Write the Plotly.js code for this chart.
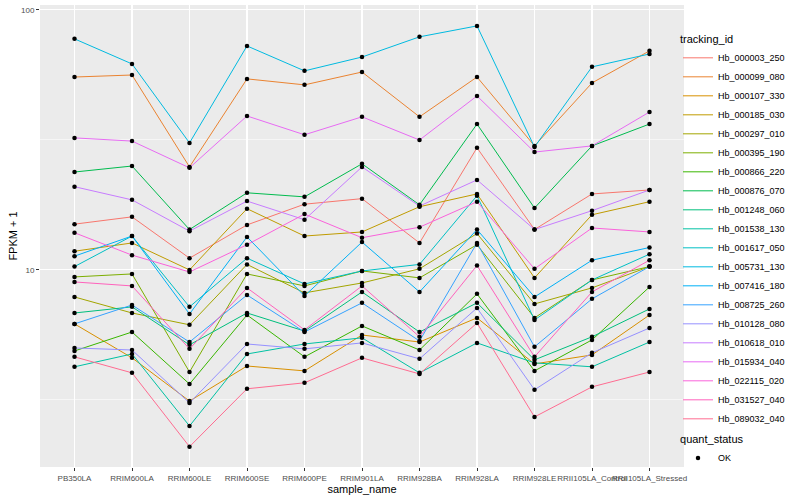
<!DOCTYPE html>
<html>
<head>
<meta charset="utf-8">
<script src="https://cdn.plot.ly/plotly-3.0.1.min.js"></script>
<style>html,body{margin:0;padding:0;background:#fff;}</style>
</head>
<body>
<div id="chart" style="width:800px;height:500px;"></div>
<script>
// ---- data (FPKM + 1) ----
const samples = ["PB350LA","RRIM600LA","RRIM600LE","RRIM600SE","RRIM600PE","RRIM901LA","RRIM928BA","RRIM928LA","RRIM928LE","RRII105LA_Control","RRII105LA_Stressed"];

const Hb_000003_250 = [15.0,16.0,11.1,14.9,17.9,18.8,12.7,29.5,14.3,19.6,20.3];
const Hb_000099_080 = [55.2,56.2,24.9,54.3,51.5,57.7,38.8,55.2,30.0,52.4,69.6];
const Hb_000107_330 = [6.20,4.59,3.13,4.27,4.09,5.62,5.28,6.54,4.35,4.71,6.71];
const Hb_000185_030 = [11.8,12.7,10.0,17.2,13.5,14.0,17.5,19.6,9.32,16.3,18.3];
const Hb_000297_010 = [7.87,6.83,6.15,10.5,8.16,8.91,10.1,13.8,7.40,8.53,10.3];
const Hb_000395_190 = [9.40,9.65,4.05,9.65,8.68,9.91,9.32,12.5,6.54,9.15,10.3];
const Hb_000866_220 = [4.88,5.77,3.64,6.71,4.63,6.09,4.92,8.09,4.09,5.38,8.60];
const Hb_000876_070 = [23.8,25.1,14.3,19.8,19.1,25.6,17.8,36.4,17.3,30.0,36.4];
const Hb_001248_060 = [6.83,7.21,5.15,6.83,5.82,8.23,5.77,7.47,4.51,5.53,7.08];
const Hb_001538_130 = [4.24,4.75,2.51,4.75,5.19,5.48,4.02,5.24,4.39,4.24,5.28];
const Hb_001617_050 = [10.3,13.5,7.21,11.1,8.83,9.91,10.5,19.3,6.42,9.15,11.5];
const Hb_005731_130 = [77.4,62.0,30.8,72.7,58.3,65.9,78.8,86.8,29.7,60.4,67.7];
const Hb_007416_180 = [11.3,13.5,6.77,13.4,7.94,12.8,8.23,14.3,7.87,10.9,12.2];
const Hb_008725_260 = [6.20,7.33,5.28,8.01,5.77,7.47,5.33,12.7,5.06,7.74,10.3];
const Hb_010128_080 = [5.01,4.92,3.08,5.19,4.97,5.24,4.55,7.14,3.46,4.80,5.98];
const Hb_010618_010 = [20.9,18.6,14.1,18.4,15.6,24.9,17.6,22.2,14.3,16.9,20.3];
const Hb_015934_040 = [32.2,31.3,24.7,39.1,33.1,38.8,31.6,46.7,28.4,30.0,40.5];
const Hb_022115_020 = [13.9,11.4,9.82,12.5,16.4,13.3,14.6,18.3,10.1,14.5,14.0];
const Hb_031527_040 = [8.99,8.68,4.97,8.53,5.88,8.68,5.53,10.4,4.63,8.23,10.9];
const Hb_089032_040 = [4.63,4.02,2.09,3.49,3.68,4.59,3.98,6.25,2.72,3.55,4.05];

const trackingIds = ["Hb_000003_250","Hb_000099_080","Hb_000107_330","Hb_000185_030","Hb_000297_010","Hb_000395_190","Hb_000866_220","Hb_000876_070","Hb_001248_060","Hb_001538_130","Hb_001617_050","Hb_005731_130","Hb_007416_180","Hb_008725_260","Hb_010128_080","Hb_010618_010","Hb_015934_040","Hb_022115_020","Hb_031527_040","Hb_089032_040"];
const seriesValues = [Hb_000003_250,Hb_000099_080,Hb_000107_330,Hb_000185_030,Hb_000297_010,Hb_000395_190,Hb_000866_220,Hb_000876_070,Hb_001248_060,Hb_001538_130,Hb_001617_050,Hb_005731_130,Hb_007416_180,Hb_008725_260,Hb_010128_080,Hb_010618_010,Hb_015934_040,Hb_022115_020,Hb_031527_040,Hb_089032_040];
const colors = ["#F8766D","#EA8331","#D89000","#C09B00","#A3A500","#7CAE00","#39B600","#00BB4E","#00BF7D","#00C1A3","#00BFC4","#00BAE0","#00B0F6","#35A2FF","#9590FF","#C77CFF","#E76BF3","#FA62DB","#FF62BC","#FF6C91"];
const yTickVals = [10, 100];
const yTickText = ["10", "100"];
const yMinorVals = [3.1623, 31.623];
const quantStatus = "OK";

// ---- traces ----
const FONT = "Liberation Sans, Arial, Helvetica, sans-serif";
const traces = [];
trackingIds.forEach((id, i) => {
  traces.push({
    type: "scatter", mode: "lines", name: id,
    x: samples, y: seriesValues[i],
    line: {color: colors[i], width: 1},
    legend: "legend", hoverinfo: "x+y+name"
  });
});
const allX = [], allY = [];
seriesValues.forEach(v => { v.forEach((val, j) => { allX.push(samples[j]); allY.push(val); }); });
traces.push({
  type: "scatter", mode: "markers", name: quantStatus,
  x: allX, y: allY,
  marker: {color: "#000000", size: 4.5, symbol: "circle"},
  legend: "legend2", hoverinfo: "x+y"
});

const layout = {
  width: 800, height: 500,
  margin: {l: 40, r: 116, t: 5, b: 33, autoexpand: false},
  paper_bgcolor: "#FFFFFF",
  plot_bgcolor: "#EBEBEB",
  font: {family: FONT, color: "#000000"},
  showlegend: true,
  xaxis: {
    type: "category", categoryorder: "array", categoryarray: samples,
    range: [-0.6, 10.6],
    showgrid: true, gridcolor: "#FFFFFF", gridwidth: 1.1,
    zeroline: false, showline: false,
    ticks: "outside", ticklen: 3, tickwidth: 1, tickcolor: "#333333",
    tickfont: {size: 8, color: "#4D4D4D", family: FONT},
    tickangle: 0,
    title: {text: "sample_name", font: {size: 11, color: "#000000", family: FONT}, standoff: 1},
    fixedrange: true
  },
  yaxis: {
    type: "log", range: [0.242, 2.019],
    tickmode: "array", tickvals: yTickVals, ticktext: yTickText,
    showgrid: true, gridcolor: "#FFFFFF", gridwidth: 1.1,
    minor: {tickmode: "array", tickvals: yMinorVals, showgrid: true, gridcolor: "#FFFFFF", gridwidth: 0.55, ticks: ""},
    zeroline: false, showline: false,
    ticks: "outside", ticklen: 3, tickwidth: 1, tickcolor: "#333333",
    tickfont: {size: 8, color: "#4D4D4D", family: FONT},
    title: {text: "FPKM + 1", font: {size: 11, color: "#000000", family: FONT}, standoff: 1},
    fixedrange: true
  },
  legend: {
    title: {text: "tracking_id", font: {size: 11, family: FONT, color: "#000000"}},
    font: {size: 9, family: FONT, color: "#000000"},
    x: 0.9907, xanchor: "left", y: 0.948, yanchor: "top",
    bgcolor: "rgba(0,0,0,0)", borderwidth: 0, tracegroupgap: 0
  },
  legend2: {
    title: {text: "quant_status", font: {size: 11, family: FONT, color: "#000000"}},
    font: {size: 9, family: FONT, color: "#000000"},
    x: 0.9907, xanchor: "left", y: 0.082, yanchor: "top",
    bgcolor: "rgba(0,0,0,0)", borderwidth: 0
  }
};

Plotly.newPlot("chart", traces, layout, {displayModeBar: false, staticPlot: true});
</script>
</body>
</html>
